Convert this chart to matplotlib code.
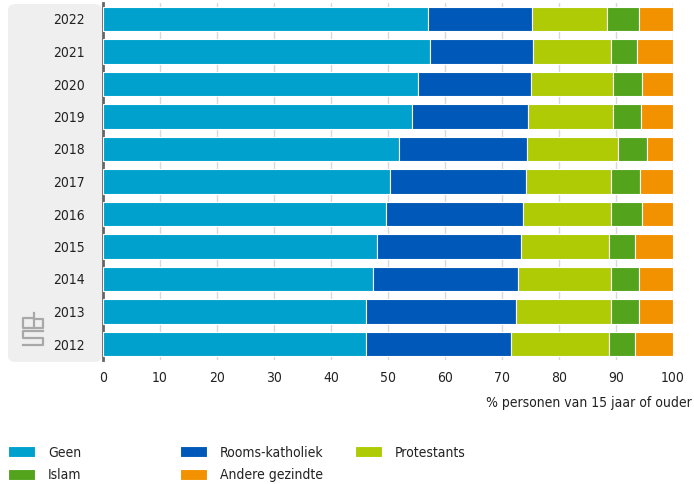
import matplotlib
matplotlib.use("Agg")
import matplotlib.pyplot as plt
import numpy as np
from matplotlib.patches import FancyBboxPatch
from matplotlib.lines import Line2D

plt.rcParams['font.family'] = ['DejaVu Sans']
plt.rcParams['font.stretch'] = 'condensed'

# data
years = ["2022", "2021", "2020", "2019", "2018", "2017", "2016", "2015", "2014", "2013", "2012"]
geen = [57.0, 57.3, 55.3, 54.2, 52.0, 50.4, 49.6, 48.1, 47.4, 46.1, 46.1]
rk = [18.2, 18.2, 19.7, 20.4, 22.4, 23.8, 24.0, 25.3, 25.4, 26.3, 25.5]
prot = [13.2, 13.6, 14.4, 14.8, 16.0, 15.0, 15.6, 15.4, 16.4, 16.8, 17.2]
islam = [5.6, 4.6, 5.2, 5.0, 5.0, 5.0, 5.3, 4.6, 4.8, 4.8, 4.6]
andere = [6.0, 6.3, 5.4, 5.6, 4.6, 5.8, 5.5, 6.6, 6.0, 6.0, 6.6]

series = [("Geen", geen, "#00a1cd"),
          ("Rooms-katholiek", rk, "#0058b8"),
          ("Protestants", prot, "#afcb05"),
          ("Islam", islam, "#53a31d"),
          ("Andere gezindte", andere, "#f39200")]

fig = plt.figure(figsize=(6.94, 4.84), dpi=100)

# grey panel behind the year labels
panel = FancyBboxPatch((8/694, 1 - 362/484), 94/694, 358/484,
                       boxstyle="round,pad=0,rounding_size=0.012",
                       transform=fig.transFigure, facecolor="#efefef",
                       edgecolor="none", zorder=-5)
fig.patches.append(panel)

ax = fig.add_axes([103/694, 1 - 360.25/484, 570/694, 357.5/484])
ax.set_facecolor("none")

y = np.arange(len(years))
left = np.zeros(len(years))
for name, vals, col in series:
    ax.barh(y, vals, left=left, height=0.74, color=col, edgecolor="white",
            linewidth=0.8, label=name, zorder=3)
    left += np.array(vals)

ax.set_ylim(len(years) - 0.5, -0.5)
ax.set_xlim(0, 100)
ax.set_yticks(y)
ax.set_yticklabels(years, fontsize=10, color="#222222")
ax.set_xticks(range(0, 101, 10))
ax.tick_params(axis="x", labelsize=10, colors="#222222", length=0, pad=8)
ax.tick_params(axis="y", length=0, pad=13)
ax.grid(axis="x", color="#d9d9d9", linewidth=1, zorder=0)
for s in ["top", "right", "bottom"]:
    ax.spines[s].set_visible(False)
ax.spines["left"].set_color("#666666")
ax.spines["left"].set_linewidth(2)

fig.text(692/694, 1 - 403/484, "% personen van 15 jaar of ouder",
         ha="right", va="center", fontsize=10, color="#222222")

# simple cbs mark
logo = [[(33, 318), (23, 318), (23, 328), (33, 328)],
        [(34, 313), (34, 328), (43, 328), (43, 319), (34, 319)],
        [(43, 331), (23, 331), (23, 338), (43, 338), (43, 345), (23, 345)]]
for pts in logo:
    xs = [p[0]/694 for p in pts]
    ys = [1 - p[1]/484 for p in pts]
    fig.lines.append(Line2D(xs, ys, transform=fig.transFigure,
                            color="#a8a8a8", linewidth=1.6))

handles, labels = ax.get_legend_handles_labels()
columns = [([0, 3], 2/694), ([1, 4], 174/694), ([2], 349/694)]
for idx, x0 in columns:
    leg = fig.legend([handles[i] for i in idx], [labels[i] for i in idx],
                     loc="upper left", bbox_to_anchor=(x0, 1 - 440/484),
                     frameon=False, fontsize=10, handlelength=1.95,
                     handleheight=0.85, handletextpad=0.95,
                     labelspacing=0.6, borderaxespad=0, borderpad=0.4)
    for t in leg.get_texts():
        t.set_color("#222222")

fig.savefig("out.png", dpi=100)
